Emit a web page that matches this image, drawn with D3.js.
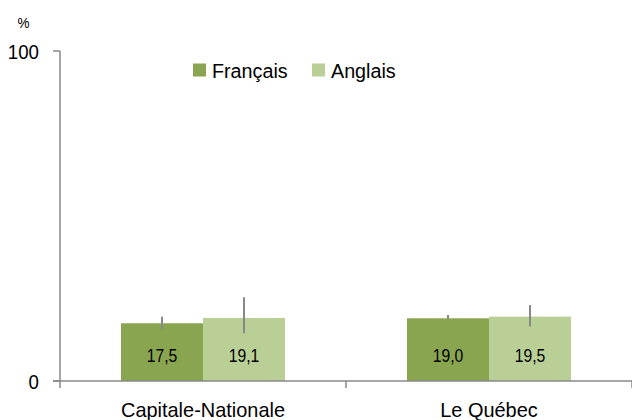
<!DOCTYPE html>
<html>
<head>
<meta charset="utf-8">
<script src="https://cdn.jsdelivr.net/npm/d3@7"></script>
<style>
body{margin:0;background:#fff;}
text{font-family:"Liberation Sans",Arial,sans-serif;fill:#000;}
</style>
</head>
<body>
<div id="chart"></div>
<script>
// categories and series
var regions=['Capitale-Nationale','Le Québec'];
var langs=['Français','Anglais'];
var colors=['#8aa54f','#b9cf96'];
var values=[[17.5,19.1],[19.0,19.5]];
// error bar low / high
var errLow=[[15.8,14.5],[18.7,16.5]];
var errHigh=[[19.5,25.4],[20.0,23.0]];
var labels=[['17,5','19,1'],['19,0','19,5']];
var yTicks=[0,100];

var W=632,H=420;
var svg=d3.select('#chart').append('svg')
    .attr('width',W).attr('height',H);

var x0=d3.scaleBand().domain(regions).range([60,632]);
var y=d3.scaleLinear().domain([0,100]).range([381,51]);
var bw=82;

// text in the source is a bit narrow, squeeze it horizontally
function txt(x,yy,s,size,sx,anchor){
    return svg.append('text')
        .attr('transform','translate('+x+','+yy+') scale('+sx+',1)')
        .attr('text-anchor',anchor||'middle')
        .attr('font-size',size+'px')
        .text(s);
}

// y axis
svg.append('line').attr('x1',60).attr('x2',60)
    .attr('y1',y(100)).attr('y2',388)
    .style('stroke','#888').style('stroke-width',1.5);
yTicks.forEach(function(t){
    svg.append('line').attr('x1',53).attr('x2',60)
        .attr('y1',y(t)).attr('y2',y(t))
        .style('stroke','#888').style('stroke-width',1.5);
    txt(39,y(t)+7.5,t,21,0.89,'end');
});
txt(23.5,28,'%',15,0.9);

regions.forEach(function(r,i){
    var cx=x0(r)+x0.bandwidth()/2;
    langs.forEach(function(l,j){
        var bx=cx-bw+j*bw;
        svg.append('rect')
            .attr('x',bx).attr('y',y(values[i][j]))
            .attr('width',bw).attr('height',y(0)-y(values[i][j]))
            .style('fill',colors[j]);
        svg.append('line')
            .attr('x1',bx+bw/2).attr('x2',bx+bw/2)
            .attr('y1',y(errHigh[i][j])).attr('y2',y(errLow[i][j]))
            .style('stroke','#888').style('stroke-width',2);
        txt(bx+bw/2,362,labels[i][j],18.5,0.85);
    });
    txt(cx,416.5,r,21,0.95);
});

// x axis
svg.append('line').attr('x1',53).attr('x2',632)
    .attr('y1',y(0)).attr('y2',y(0))
    .style('stroke','#888').style('stroke-width',1.5);
regions.forEach(function(r){
    var xx=x0(r)+x0.bandwidth();
    svg.append('line').attr('x1',xx).attr('x2',xx)
        .attr('y1',y(0)).attr('y2',388)
        .style('stroke','#888').style('stroke-width',1.5);
});

// legend
var lx=[193,312];
langs.forEach(function(l,i){
    svg.append('rect').attr('x',lx[i]).attr('y',63.5)
        .attr('width',13).attr('height',13)
        .style('fill',colors[i]);
    txt(lx[i]+19,77.7,l,21,0.94,'start');
});
</script>
</body>
</html>
